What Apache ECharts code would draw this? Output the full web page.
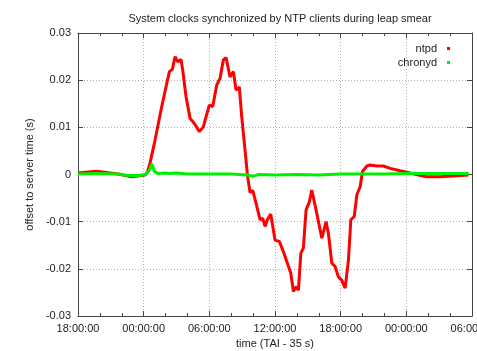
<!DOCTYPE html>
<html>
<head>
<meta charset="utf-8">
<script src="https://cdn.jsdelivr.net/npm/echarts@6/dist/echarts.min.js"></script>
<style>
  html, body { margin: 0; padding: 0; background: #fff; }
  #chart { width: 477px; height: 351px; }
</style>
</head>
<body>
<div id="chart"></div>
<script>
// hours since 18:00 on the first day
const ntpdHours = [
  0, 1.7, 3.66, 4.91, 6.12, 6.35, 6.58, 7.04, 7.65, 8.11, 8.35, 8.62, 8.87, 9.11, 9.41, 9.57,
  9.87, 10.24, 10.63, 11.09, 11.45, 11.61, 12.0, 12.31, 12.68, 12.98, 13.28, 13.53, 13.89,
  14.2, 14.44, 14.74, 14.96, 15.26, 15.48, 15.72, 15.97, 16.27, 16.64, 16.88, 17.09, 17.3,
  17.61, 18.0, 18.4, 18.77, 19.13, 19.44, 19.68, 19.93, 20.14, 20.36, 20.59, 20.84, 21.14,
  21.36, 21.66, 21.97, 22.28, 22.67, 22.88, 23.19, 23.49, 23.79, 24.1, 24.41, 24.71, 24.93,
  25.24, 25.48, 25.78, 25.99, 26.39, 26.69, 27.3, 27.91, 28.52, 29.43, 30.35, 31.1, 31.87,
  33.09, 34.3, 35.67
]
const ntpdOffsets = [
  0.0003, 0.0007, 0.0001, -0.0005, -0.0001, 0.0005, 0.0024, 0.0073, 0.0144, 0.0193, 0.0218, 0.0223, 0.025, 0.0239, 0.0244, 0.0221,
  0.0165, 0.0119, 0.0108, 0.0091, 0.0101, 0.0115, 0.0147, 0.0144, 0.019, 0.0204, 0.0243, 0.0248, 0.0207,
  0.0218, 0.0179, 0.0185, 0.0122, 0.0052, -0.0001, -0.0038, -0.0034, -0.0061, -0.0096, -0.0093, -0.011, -0.0096,
  -0.0084, -0.0139, -0.0142, -0.0164, -0.0188, -0.0209, -0.0248, -0.0238, -0.0245, -0.0167, -0.0156, -0.0075, -0.0058,
  -0.0033, -0.0065, -0.01, -0.0135, -0.01, -0.0125, -0.0188, -0.0195, -0.0217, -0.0224, -0.0241, -0.0181, -0.0096,
  -0.0089, -0.0043, -0.0026, 0.0006, 0.0018, 0.002, 0.0018, 0.0018, 0.0013, 0.0008, 0.0003, -0.0001, -0.0005,
  -0.0005, -0.0003, -0.0001
]
const chronydHours = [
  0, 1.7, 3.7, 4.5, 5.5, 6.2, 6.5, 6.75, 7.0, 7.3, 8.0, 8.3, 9, 10, 12, 14, 15.5, 16, 16.5,
  18, 20, 22, 24, 26, 28, 30, 32, 34, 35.7
]
const chronydOffsets = [
  0.0001, 0.0002, 0.0001, -0.0002, -0.0002, 0.0, 0.0008, 0.0022, 0.0006, 0.0002, 0.0003, 0.0002, 0.0003, 0.0001, 0.0001, 0.0001, -0.0001, -0.0004, 0,
  -0.0001, 0, -0.0001, 0.0001, 0.0001, 0.0001, 0.0002, 0.0002, 0.0002, 0.0002
]

const FONT = 'Liberation Sans'
const TEXT = '#222'
const AXIS = '#444'

function timeLabel(h) {
  const hh = (18 + h) % 24
  return `${String(hh).padStart(2, '0')}:00:00`
}

const chart = echarts.init(document.getElementById('chart'), null, { renderer: 'canvas' })

const xBase = {
  type: 'value', min: 0, max: 36, interval: 6,
  axisLine: { show: true, onZero: false, lineStyle: { color: AXIS, width: 1 } },
  axisTick: { show: true, inside: true, length: 5, lineStyle: { color: AXIS } },
  minorTick: { show: true, splitNumber: 3, length: 3, lineStyle: { color: AXIS } },
}
const yBase = {
  type: 'value', min: -0.03, max: 0.03, interval: 0.01,
  axisLine: { show: true, onZero: false, lineStyle: { color: AXIS, width: 1 } },
  axisTick: { show: true, inside: true, length: 5, lineStyle: { color: AXIS } },
}

chart.setOption({
  animation: false,
  backgroundColor: '#fff',
  textStyle: { fontFamily: FONT },
  title: {
    text: 'System clocks synchronized by NTP clients during leap smear',
    left: 275, textAlign: 'center', top: 8,
    textStyle: { fontFamily: FONT, fontSize: 11, fontWeight: 'normal', color: TEXT },
  },
  legend: {
    orient: 'vertical', right: 22, top: 38, align: 'right',
    itemWidth: 3, itemHeight: 3, itemGap: 3,
    textStyle: { fontFamily: FONT, fontSize: 11, color: TEXT, padding: [0, 5, 0, 0] },
    data: [
      { name: 'ntpd', icon: 'rect' },
      { name: 'chronyd', icon: 'rect' },
    ],
  },
  grid: { left: 78, right: 5, top: 33, bottom: 35, containLabel: false, outerBoundsMode: 'none' },
  xAxis: [
    {
      ...xBase, position: 'bottom',
      name: 'time (TAI - 35 s)', nameLocation: 'middle', nameGap: 22,
      nameTextStyle: { fontFamily: FONT, fontSize: 11, color: TEXT },
      axisLabel: { color: TEXT, fontSize: 11, fontFamily: FONT, margin: 7, formatter: timeLabel },
      splitLine: { show: true, lineStyle: { color: '#b0b0b0', type: [1, 2], width: 1 } },
    },
    { ...xBase, position: 'top', axisLabel: { show: false }, splitLine: { show: false } },
  ],
  yAxis: [
    {
      ...yBase, position: 'left',
      name: 'offset to server time (s)', nameLocation: 'middle', nameGap: 42, nameRotate: 90,
      nameTextStyle: { fontFamily: FONT, fontSize: 11, color: TEXT },
      axisLabel: {
        color: TEXT, fontSize: 11, fontFamily: FONT, margin: 7,
        formatter: v => Math.abs(v) < 1e-9 ? '0' : v.toFixed(2),
      },
      splitLine: { show: true, lineStyle: { color: '#b0b0b0', type: [1, 2], width: 1 } },
    },
    { ...yBase, position: 'right', axisLabel: { show: false }, splitLine: { show: false } },
  ],
  series: [
    {
      name: 'ntpd', type: 'line', color: '#ff0000', symbol: 'none',
      lineStyle: { color: '#ff0000', width: 3 },
      data: ntpdHours.map((h, i) => [h, ntpdOffsets[i]]),
    },
    {
      name: 'chronyd', type: 'line', color: '#00ee00', symbol: 'none',
      lineStyle: { color: '#00ee00', width: 3 },
      data: chronydHours.map((h, i) => [h, chronydOffsets[i]]),
    },
  ],
})
</script>
</body>
</html>
